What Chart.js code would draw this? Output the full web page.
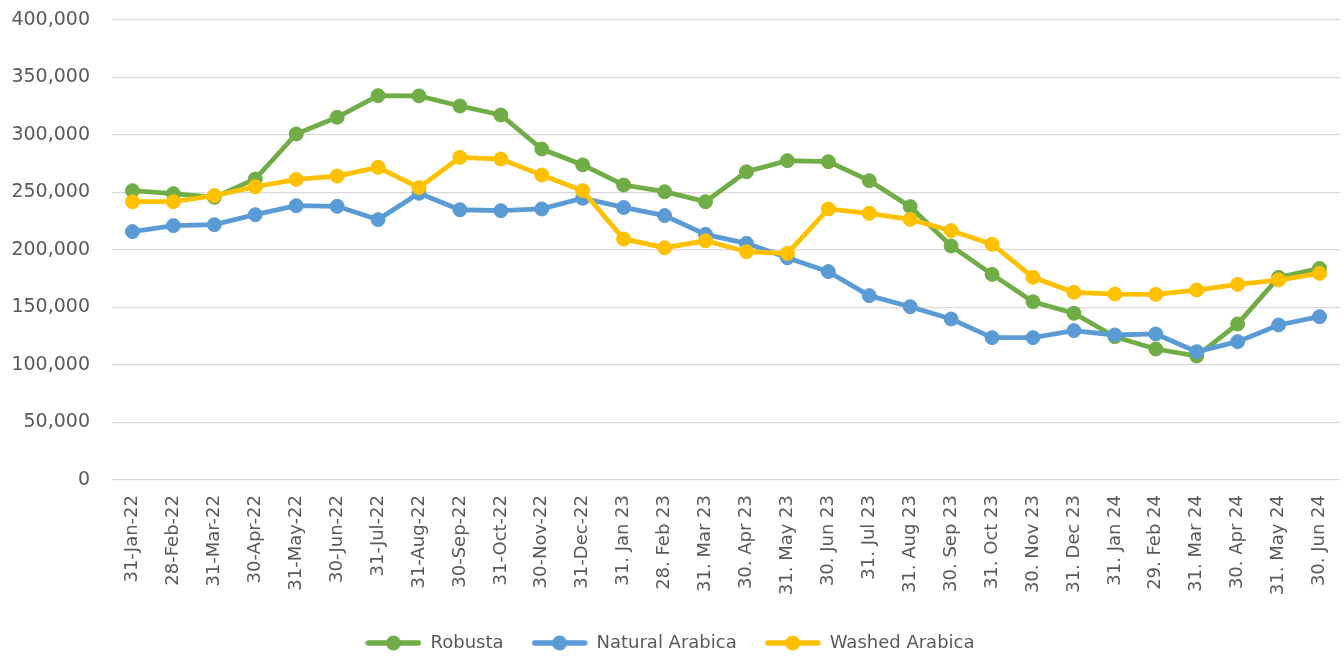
<!DOCTYPE html>
<html>
<head>
<meta charset="utf-8">
<script src="https://cdn.jsdelivr.net/npm/chart.js@4.4.1/dist/chart.umd.min.js"></script>
<style>
  html, body { margin: 0; padding: 0; background: #ffffff; }
  #wrap { position: relative; width: 1344px; height: 659px; }
</style>
</head>
<body>
<div id="wrap"><canvas id="c" width="1344" height="659"></canvas></div>
<script>
const categories = [
  "31-Jan-22","28-Feb-22","31-Mar-22","30-Apr-22","31-May-22","30-Jun-22","31-Jul-22","31-Aug-22",
  "30-Sep-22","31-Oct-22","30-Nov-22","31-Dec-22","31. Jan 23","28. Feb 23","31. Mar 23","30. Apr 23",
  "31. May 23","30. Jun 23","31. Jul 23","31. Aug 23","30. Sep 23","31. Oct 23","30. Nov 23","31. Dec 23",
  "31. Jan 24","29. Feb 24","31. Mar 24","30. Apr 24","31. May 24","30. Jun 24"
];
const robusta = [
  251600, 249000, 245800, 261700, 300900, 315400, 334200, 334000, 325200, 317400, 287800, 274000,
  256500, 250700, 242000, 268000, 277700, 276800, 260300, 237700, 203500, 178800, 155000, 145000,
  124600, 113900, 107800, 135700, 176200, 184000
];
const naturalArabica = [
  216000, 221200, 222000, 230700, 238500, 238000, 226400, 249300, 235000, 234200, 235700, 245000,
  237000, 229900, 213600, 205800, 193300, 181200, 160300, 150700, 140000, 123800, 123800, 129900,
  126100, 127000, 111600, 120300, 134800, 142000
];
const washedArabica = [
  242000, 242000, 247300, 255000, 261400, 264300, 271900, 254200, 280600, 279100, 265200, 251600,
  209600, 202000, 208000, 198500, 197000, 235700, 231900, 226600, 216800, 205000, 176200, 163200,
  161700, 161400, 165200, 170100, 173900, 179700
];
const seriesNames = ["Robusta", "Natural Arabica", "Washed Arabica"];
const seriesColors = ["#70AD47", "#5B9BD5", "#FFC000"];

const textColor = "#595959";
const fontFamily = "'DejaVu Sans', sans-serif";

function legendMarker(color) {
  const cv = document.createElement("canvas");
  cv.width = 56; cv.height = 18;
  const g = cv.getContext("2d");
  g.strokeStyle = color; g.lineWidth = 5.5; g.lineCap = "round";
  g.beginPath(); g.moveTo(3, 9); g.lineTo(53, 9); g.stroke();
  g.fillStyle = color;
  g.beginPath(); g.arc(28, 9, 7.5, 0, Math.PI * 2); g.fill();
  return cv;
}
const markers = seriesColors.map(legendMarker);

function makeDataset(i, data, order) {
  return {
    label: seriesNames[i],
    data: data,
    borderColor: seriesColors[i],
    backgroundColor: seriesColors[i],
    pointBackgroundColor: seriesColors[i],
    pointBorderColor: seriesColors[i],
    borderWidth: 4.8,
    pointRadius: 7,
    pointBorderWidth: 1,
    tension: 0,
    order: order
  };
}

new Chart(document.getElementById("c"), {
  type: "line",
  data: {
    labels: categories,
    datasets: [
      makeDataset(0, robusta, 3),
      makeDataset(1, naturalArabica, 2),
      makeDataset(2, washedArabica, 1)
    ]
  },
  options: {
    responsive: false,
    animation: false,
    devicePixelRatio: 1,
    layout: { autoPadding: false, padding: { left: 0, right: 4, top: 20, bottom: -3 } },
    scales: {
      x: {
        offset: true,
        grid: { display: false, drawTicks: false },
        border: { display: false },
        ticks: {
          autoSkip: false,
          maxRotation: 90,
          minRotation: 90,
          padding: 15,
          color: textColor,
          font: { family: fontFamily, size: 18 }
        },
        afterFit: (s) => { s.height = 126; s.paddingLeft = 0; s.paddingRight = 0; }
      },
      y: {
        min: 0,
        max: 400000,
        grid: { color: "#D9D9D9", lineWidth: 1.3, drawTicks: false },
        border: { display: false },
        ticks: {
          stepSize: 50000,
          padding: 22,
          color: textColor,
          font: { family: fontFamily, size: 19 },
          callback: (v) => v.toLocaleString("en-US")
        },
        afterFit: (s) => { s.width = 112; s.paddingTop = 0; s.paddingBottom = 0; }
      }
    },
    plugins: {
      tooltip: { enabled: false },
      legend: {
        position: "bottom",
        labels: {
          usePointStyle: true,
          pointStyleWidth: 56,
          padding: 28,
          color: textColor,
          font: { family: fontFamily, size: 18 },
          generateLabels: (chart) => {
            const items = Chart.defaults.plugins.legend.labels.generateLabels(chart);
            items.sort((a, b) => a.datasetIndex - b.datasetIndex);
            items.forEach((it) => { it.pointStyle = markers[it.datasetIndex]; });
            return items;
          }
        }
      }
    }
  }
});
</script>
</body>
</html>
